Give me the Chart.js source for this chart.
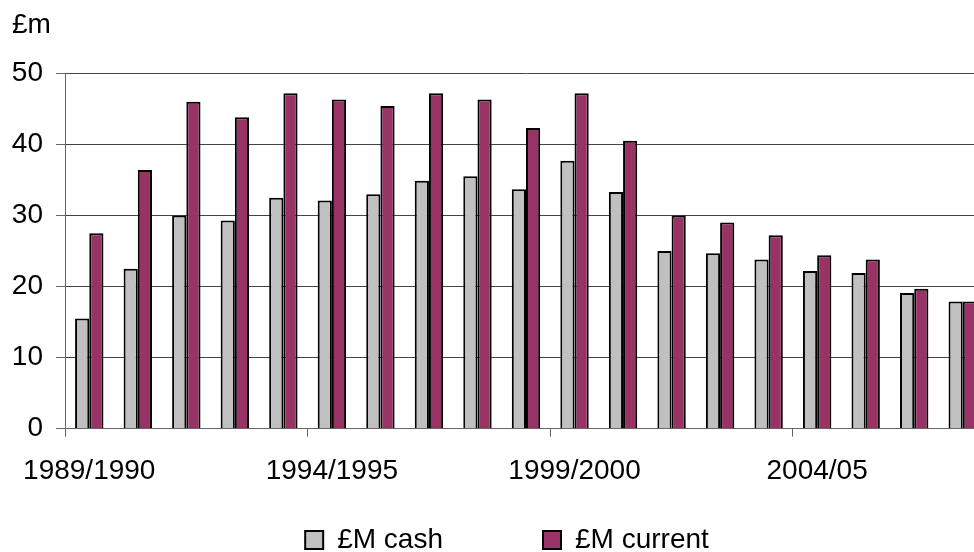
<!DOCTYPE html>
<html>
<head>
<meta charset="utf-8">
<script src="https://cdn.jsdelivr.net/npm/chart.js@4/dist/chart.umd.min.js"></script>
<style>
  body { margin: 0; overflow: hidden; background: #fff; }
  #wrap { position: relative; width: 1002px; height: 552px; }
</style>
</head>
<body>
<div id="wrap"><canvas id="barChart"></canvas></div>
<script>
// data
var years = [
  "1989/1990", "1990/1991", "1991/1992", "1992/1993", "1993/1994",
  "1994/1995", "1995/1996", "1996/1997", "1997/1998", "1998/1999",
  "1999/2000", "2000/01", "2001/02", "2002/03", "2003/04",
  "2004/05", "2005/06", "2006/07", "2007/08",
];
var cashValues = [15.5, 22.5, 30.0, 29.3, 32.5, 32.1, 33.0, 34.9, 35.5, 33.7, 37.7, 33.3, 25.0, 24.7, 23.8, 22.2, 21.9, 19.1, 17.9];
var currentValues = [27.5, 36.4, 46.0, 43.8, 47.2, 46.3, 45.4, 47.2, 46.3, 42.3, 47.2, 40.5, 30.0, 29.0, 27.2, 24.4, 23.8, 19.7, 17.9];
var yTicks = [0, 10, 20, 30, 40, 50];

Chart.defaults.font.family = "Arial, 'Liberation Sans', sans-serif";
Chart.defaults.font.size = 28;
Chart.defaults.color = "#000";

var barChartCanvas = document.getElementById("barChart").getContext("2d");

new Chart(barChartCanvas, {
  type: "bar",
  data: {
    labels: years,
    datasets: [
      {
        label: "£M cash",
        data: cashValues,
        backgroundColor: "#c0c0c0",
        borderColor: "#000",
        borderWidth: 2,
      },
      {
        label: "£M current",
        data: currentValues,
        backgroundColor: "#993366",
        borderColor: "#000",
        borderWidth: 2,
      },
    ],
  },
  options: {
    responsive: true,
    maintainAspectRatio: false,
    animation: false,
    categoryPercentage: 0.585,
    barPercentage: 1.0,
    layout: { padding: { left: 12, bottom: -12 } },
    plugins: {
      title: {
        display: true,
        text: "£m",
        align: "start",
        font: { size: 28, weight: "normal" },
        padding: { top: 8, bottom: 31.7 },
      },
      legend: {
        position: "bottom",
        labels: {
          boxWidth: 18,
          boxHeight: 18,
          padding: 34,
          font: { size: 28 },
          // empty item between the two entries to widen the gap
          generateLabels: function (chart) {
            var items = Chart.defaults.plugins.legend.labels.generateLabels(chart);
            items.splice(1, 0, {
              text: "",
              fillStyle: "rgba(0,0,0,0)",
              strokeStyle: "rgba(0,0,0,0)",
              lineWidth: 0,
              hidden: false,
              datasetIndex: -1,
            });
            return items;
          },
        },
      },
      tooltip: { enabled: false },
    },
    scales: {
      x: {
        grid: {
          drawOnChartArea: false,
          tickLength: 8,
          color: function (ctx) {
            return ctx.index % 5 === 0 ? "#666" : "rgba(0,0,0,0)";
          },
        },
        border: { color: "#666", width: 1 },
        ticks: {
          autoSkip: false,
          maxRotation: 0,
          padding: 18,
          callback: function (val, index) {
            return index % 5 === 0 ? this.getLabelForValue(val) : "";
          },
        },
        afterFit: function (scale) {
          scale.height = 63.3;
          scale.paddingLeft = 0;
          scale.paddingRight = 15;
        },
      },
      y: {
        min: yTicks[0],
        max: yTicks[yTicks.length - 1],
        ticks: { stepSize: 10, padding: 13 },
        grid: { color: "#444", tickColor: "#666", tickLength: 9 },
        border: { color: "#666", width: 1 },
        afterFit: function (scale) {
          scale.width = 53;
        },
      },
    },
  },
});
</script>
</body>
</html>
